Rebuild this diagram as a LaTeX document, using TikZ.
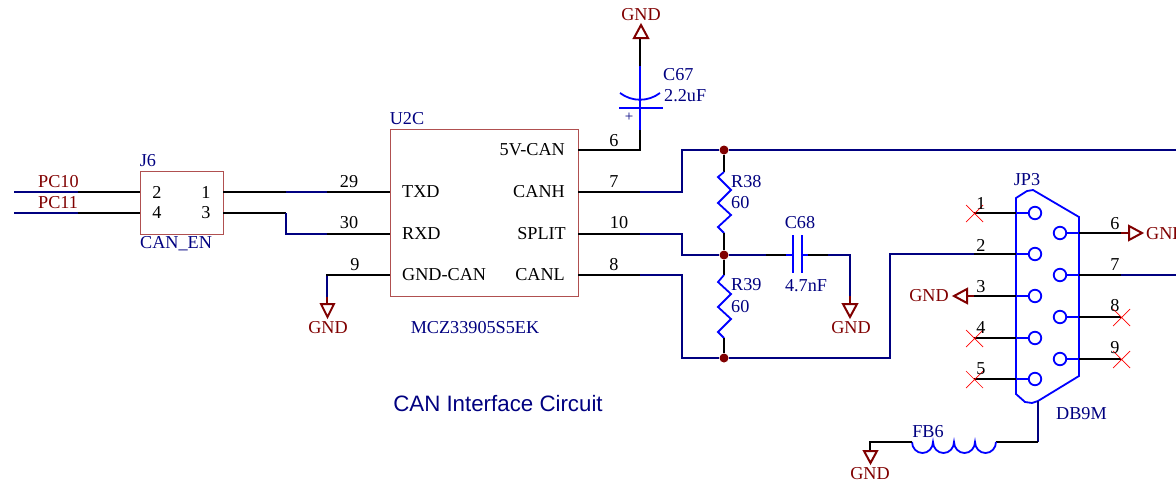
\documentclass[tikz,border=0pt]{standalone}
\usepackage{fontspec}
\setmainfont{Liberation Serif}
\newfontfamily\capfont{Liberation Sans}
\usepackage{tikz}
\definecolor{netblue}{RGB}{0,0,128}
\definecolor{partblue}{RGB}{0,0,255}
\definecolor{gndred}{RGB}{128,0,0}
\definecolor{boxred}{RGB}{176,80,80}

\begin{document}
\begin{tikzpicture}[x=1pt,y=-1pt,
    every node/.style={inner sep=0pt,font=\fontsize{18.2}{20}\selectfont},
    pinw/.style={black,line width=1.8pt},
    netw/.style={netblue,line width=1.8pt,line join=miter},
    partw/.style={partblue,line width=1.8pt},
    gndw/.style={gndred,line width=2pt},
    box/.style={draw=boxred,line width=1pt,minimum width=#1},
    lbl/.style={black},
    refl/.style={netblue},
    gndl/.style={gndred},
    dot/.style={circle,fill=gndred,minimum size=9pt},
    hole/.style={circle,draw=partblue,line width=1.8pt,minimum size=12.5pt},
    nc/.style={red,line width=0.7pt}]
    \clip (0,0) rectangle (1176,490);

    % J6
    \node[box=83pt,minimum height=63pt] (J6) at (181.5,202.5) {};
    \node[refl] (J6ref) at (148,161) {J6};
    \node[refl,anchor=west] (J6val) at (140,244) {CAN\_EN};
    \node[lbl] (j2t) at (157,192) {2};
    \node[lbl] (j4t) at (157,213) {4};
    \node[lbl] (j1t) at (206,192) {1};
    \node[lbl] (j3t) at (206,213) {3};
    \coordinate (j2) at (140,192);
    \coordinate (j4) at (140,213);
    \coordinate (j1) at (223,192);
    \coordinate (j3) at (223,213);

    \draw[netw] (14,192) -- (78,192);
    \draw[netw] (14,213) -- (78,213);
    \draw[pinw] (78,192) -- (j2);
    \draw[pinw] (78,213) -- (j4);
    \node[gndl,anchor=west] (pc10) at (38,182) {PC10};
    \node[gndl,anchor=west] (pc11) at (38,203) {PC11};

    % U2C
    \node[box=188pt,minimum height=167pt] (U2C) at (484,213) {};
    \node[refl] (U2Cref) at (407,119) {U2C};
    \node[refl] (U2Cval) at (475,328) {MCZ33905S5EK};
    \node[lbl,anchor=west] (txd) at (402,192) {TXD};
    \node[lbl,anchor=west] (rxd) at (402,234) {RXD};
    \node[lbl,anchor=west] (gndcan) at (402,275) {GND-CAN};
    \node[lbl,anchor=east] (vcan) at (565,150) {5V-CAN};
    \node[lbl,anchor=east] (canh) at (565,192) {CANH};
    \node[lbl,anchor=east] (split) at (566,234) {SPLIT};
    \node[lbl,anchor=east] (canl) at (565,275) {CANL};
    \coordinate (u29) at (390,192);
    \coordinate (u30) at (390,234);
    \coordinate (u9) at (390,275);
    \coordinate (u6) at (578,150);
    \coordinate (u7) at (578,192);
    \coordinate (u10) at (578,234);
    \coordinate (u8) at (578,275);

    \draw[pinw] (j1) -- (286,192);
    \draw[netw] (286,192) -- (327,192);
    \draw[pinw] (327,192) -- (u29);
    \draw[pinw] (j3) -- (286,213);
    \draw[netw] (286,213) -- (286,234) -- (327,234);
    \draw[pinw] (327,234) -- (u30);
    \draw[netw] (327,275) -- (327,297);
    \draw[pinw] (u9) -- (327,275) -- (327,276);
    \draw[gndw] (327,297) -- (327,304);
    \draw[gndw] (321,304) -- (334,304) -- (327.5,317) -- cycle;
    \node[gndl] (gnd1) at (328,328) {GND};
    \node[lbl] (p29) at (349,182) {29};
    \node[lbl] (p30) at (349,223) {30};
    \node[lbl] (p9) at (355,265) {9};
    \node[lbl] (p6) at (614,141) {6};
    \node[lbl] (p7) at (614,182) {7};
    \node[lbl] (p10) at (619,223) {10};
    \node[lbl] (p8) at (614,265) {8};

    % C67
    \draw[partw] (640,130) -- (640,66);
    \draw[pinw] (u6) -- (640,150) -- (640,130);
    \draw[partw] (619,108) -- (663,108);
    \draw[partw] (620,93) .. controls (632,102) and (648,102) .. (660,93);
    \draw[pinw] (640,66) -- (640,38);
    \draw[gndw] (634,38) -- (648,38) -- (641,25) -- cycle;
    \node[gndl] (gnd2) at (641,15) {GND};
    \node[refl,anchor=west] (C67ref) at (663,75) {C67};
    \node[refl,anchor=west] (C67val) at (664,96) {2.2uF};
    \node[netblue,font=\fontsize{15}{16}\selectfont] (C67pol) at (629,117) {+};

    % bus
    \node[dot] (n1) at (724,150) {};
    \node[dot] (n2) at (724,255) {};
    \node[dot] (n3) at (724,358) {};
    \draw[pinw] (u7) -- (640,192);
    \draw[netw] (640,192) -- (682,192) -- (682,150) -- (n1) -- (1176,150);
    \draw[pinw] (u10) -- (640,234);
    \draw[netw] (640,234) -- (682,234) -- (682,255) -- (n2) -- (766,255);
    \draw[pinw] (u8) -- (640,275);
    \draw[netw] (640,275) -- (682,275) -- (682,358) -- (n3) -- (890,358) -- (890,254) -- (974,254);

    % R38 R39
    \draw[pinw] (n1) -- (724,172);
    \draw[partw] (724,172) -- (718,177) -- (731,190) -- (718,203) -- (731,215) -- (718,227) -- (724,233);
    \draw[pinw] (724,233) -- (n2);
    \draw[pinw] (n2) -- (724,275);
    \draw[partw] (724,275) -- (718,282) -- (731,294) -- (718,307) -- (731,319) -- (718,332) -- (724,338);
    \draw[pinw] (724,338) -- (n3);
    \node[refl,anchor=west] (R38ref) at (731,182) {R38};
    \node[refl,anchor=west] (R38val) at (731,203) {60};
    \node[refl,anchor=west] (R39ref) at (731,285) {R39};
    \node[refl,anchor=west] (R39val) at (731,307) {60};

    % C68
    \draw[pinw] (766,255) -- (786,255);
    \draw[partw] (786,255) -- (793,255);
    \draw[partw] (793,235) -- (793,273);
    \draw[partw] (802,235) -- (802,273);
    \draw[partw] (802,255) -- (808,255);
    \draw[pinw] (808,255) -- (828,255);
    \draw[netw] (828,255) -- (850,255) -- (850,296);
    \draw[gndw] (850,296) -- (850,304);
    \draw[gndw] (843,304) -- (857,304) -- (850,317) -- cycle;
    \node[gndl] (gnd3) at (851,328) {GND};
    \node[refl] (C68ref) at (800,223) {C68};
    \node[refl] (C68val) at (806,286) {4.7nF};

    % JP3
    \draw[partw] (1016,198) -- (1027,191) -- (1033,190) -- (1079,217) -- (1079,376)
      -- (1038,401) -- (1032,403) -- (1025,402) -- (1016,394) -- cycle;
    \node[refl] (JP3ref) at (1027,180) {JP3};
    \node[refl,anchor=west] (JP3val) at (1056,414) {DB9M};
    \node[hole] (h1) at (1035,213) {};
    \node[hole] (h2) at (1035,254) {};
    \node[hole] (h3) at (1035,296) {};
    \node[hole] (h4) at (1035,338) {};
    \node[hole] (h5) at (1035,379) {};
    \node[hole] (h6) at (1060,233) {};
    \node[hole] (h7) at (1060,275) {};
    \node[hole] (h8) at (1060,317) {};
    \node[hole] (h9) at (1060,359) {};
    \draw[partw] (1016,213) -- (h1);
    \draw[partw] (1016,254) -- (h2);
    \draw[partw] (1016,296) -- (h3);
    \draw[partw] (1016,338) -- (h4);
    \draw[partw] (1016,379) -- (h5);
    \draw[partw] (h6) -- (1079,233);
    \draw[partw] (h7) -- (1079,275);
    \draw[partw] (h8) -- (1079,317);
    \draw[partw] (h9) -- (1079,359);
    \draw[pinw] (974,213) -- (1016,213);
    \draw[pinw] (974,254) -- (1016,254);
    \draw[pinw] (974,296) -- (1016,296);
    \draw[pinw] (974,338) -- (1016,338);
    \draw[pinw] (974,379) -- (1016,379);
    \draw[pinw] (1079,233) -- (1121,233);
    \draw[pinw] (1079,275) -- (1121,275);
    \draw[pinw] (1079,317) -- (1121,317);
    \draw[pinw] (1079,359) -- (1121,359);
    \draw[netw] (1121,275) -- (1176,275);
    \draw[nc] (966,205) -- (983,222) (966,222) -- (983,205);
    \draw[nc] (966,330) -- (983,347) (966,347) -- (983,330);
    \draw[nc] (966,371) -- (983,388) (966,388) -- (983,371);
    \draw[nc] (1113,309) -- (1130,326) (1113,326) -- (1130,309);
    \draw[nc] (1113,351) -- (1130,368) (1113,368) -- (1130,351);
    \node[lbl] (q1) at (981,203) {1};
    \node[lbl] (q2) at (981,245) {2};
    \node[lbl] (q3) at (981,287) {3};
    \node[lbl] (q4) at (981,328) {4};
    \node[lbl] (q5) at (981,369) {5};
    \node[lbl] (q6) at (1115,224) {6};
    \node[lbl] (q7) at (1115,265) {7};
    \node[lbl] (q8) at (1115,306) {8};
    \node[lbl] (q9) at (1115,348) {9};

    \draw[gndw] (974,296) -- (967,296);
    \draw[gndw] (967,289) -- (967,303) -- (954,296) -- cycle;
    \node[gndl] (gnd4) at (929,296) {GND};
    \draw[gndw] (1121,233) -- (1129,233);
    \draw[gndw] (1129,226) -- (1129,240) -- (1142,233) -- cycle;
    \node[gndl,anchor=west] (gnd5) at (1146,234) {GND};

    % FB6
    \draw[netw] (1038,401) -- (1038,442);
    \draw[pinw] (1038,442) -- (996,442);
    \draw[partw] (996,442) arc (0:180:10.5 and 11) arc (0:180:10.5 and 11) arc (0:180:10.5 and 11) arc (0:180:10.5 and 11);
    \draw[pinw] (912,442) -- (870,442) -- (870,451);
    \draw[gndw] (864,451) -- (877,451) -- (870.5,463) -- cycle;
    \node[gndl] (gnd6) at (870,474) {GND};
    \node[refl] (FB6ref) at (928,432) {FB6};

    \node[netblue,font=\capfont\fontsize{22.3}{24}\selectfont] (title) at (498,404) {CAN Interface Circuit};
  \end{tikzpicture}
\end{document}
